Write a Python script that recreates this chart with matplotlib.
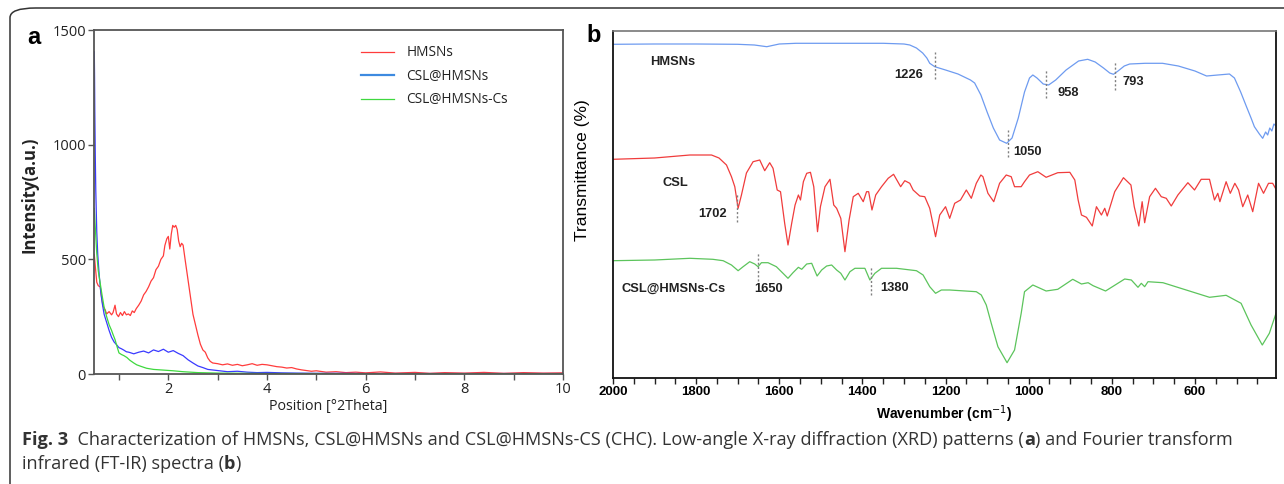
import matplotlib
matplotlib.use("Agg")
import matplotlib.pyplot as plt
from matplotlib.patches import FancyBboxPatch

# ---- panel a: low-angle XRD ----
xrd_x_hmsn = [0.50, 0.52, 0.55, 0.58, 0.62, 0.65, 0.68, 0.72, 0.75, 0.80, 0.85, 0.88, 0.92, 0.95,
              0.99, 1.03, 1.07, 1.11, 1.15, 1.19, 1.23, 1.27, 1.31, 1.35, 1.40, 1.45, 1.50, 1.55,
              1.60, 1.65, 1.70, 1.75, 1.80, 1.85, 1.90, 1.93, 1.97, 2.00, 2.03, 2.06, 2.09, 2.12,
              2.15, 2.18, 2.21, 2.24, 2.27, 2.30, 2.34, 2.38, 2.42, 2.46, 2.50, 2.55, 2.60, 2.65,
              2.70, 2.75, 2.80, 2.85, 2.90, 3.0, 3.1, 3.2, 3.3, 3.4, 3.5, 3.6, 3.7, 3.8, 3.9, 4.0,
              4.1, 4.2, 4.3, 4.4, 4.5, 4.6, 4.7, 4.8, 4.9, 5.0, 5.2, 5.4, 5.6, 5.8, 6.0, 6.3, 6.6,
              7.0, 7.3, 7.6, 8.0, 8.4, 8.8, 9.2, 9.6, 10.0]
xrd_y_hmsn = [520, 470, 400, 385, 380, 330, 295, 280, 262, 272, 258, 268, 300, 262,
              250, 268, 255, 272, 258, 262, 255, 275, 268, 285, 300, 318, 345, 360,
              380, 405, 420, 455, 470, 500, 515, 560, 590, 600, 545, 610, 648, 640,
              648, 630, 580, 555, 570, 562, 500, 440, 380, 320, 260, 215, 170, 130,
              105, 95, 70, 55, 48, 45, 40, 44, 38, 42, 36, 40, 45, 38, 42, 40,
              36, 32, 30, 26, 28, 22, 18, 15, 12, 14, 8, 10, 6, 8, 5, 9, 4,
              7, 3, 6, 4, 7, 3, 6, 4, 5]

xrd_x_csl = [0.50, 0.505, 0.51, 0.52, 0.53, 0.55, 0.57, 0.60, 0.63, 0.66, 0.70, 0.75, 0.80, 0.85,
             0.90, 0.95, 1.00, 1.05, 1.10, 1.15, 1.20, 1.30, 1.40, 1.50, 1.60, 1.70, 1.80, 1.90,
             2.00, 2.10, 2.20, 2.30, 2.40, 2.50, 2.60, 2.70, 2.80, 3.0, 3.2, 3.4, 3.6, 3.8, 4.0,
             4.3, 4.6, 5.0, 5.5, 6.0, 7.0, 8.0, 9.0, 10.0]
xrd_y_csl = [1405, 1300, 1150, 950, 800, 620, 520, 430, 360, 310, 260, 225, 190, 160,
             140, 128, 115, 110, 104, 97, 95, 88, 95, 100, 92, 105, 98, 108,
             95, 102, 90, 80, 62, 48, 35, 28, 20, 15, 10, 12, 8, 6, 7,
             5, 4, 3, 3, 2, 2, 2, 2, 2]

xrd_x_cs = [0.50, 0.51, 0.53, 0.55, 0.58, 0.62, 0.66, 0.70, 0.75, 0.80, 0.85, 0.88, 0.92, 0.96,
            1.00, 1.05, 1.10, 1.16, 1.22, 1.30, 1.36, 1.45, 1.56, 1.70, 1.90, 2.10, 2.30, 2.60,
            3.0, 3.5, 4.0, 5.0, 6.0, 8.0, 10.0]
xrd_y_cs = [722, 680, 600, 526, 450, 395, 340, 290, 250, 215, 190, 172, 150, 120,
            92, 85, 80, 72, 60, 48, 40, 33, 25, 20, 17, 14, 10, 6,
            4, 3, 2, 2, 1, 1, 1]

xrd_labels = ["HMSNs", "CSL@HMSNs", "CSL@HMSNs-Cs"]

# ---- panel b: FT-IR (arbitrary units, traces already offset) ----
ir_wn_hmsn = [2000, 1900, 1800, 1700, 1660, 1630, 1600, 1560, 1450, 1350, 1300, 1286, 1270, 1255,
              1245, 1238, 1226, 1200, 1170, 1140, 1130, 1115, 1100, 1085, 1070, 1053, 1040, 1025,
              1010, 998, 990, 980, 965, 952, 935, 910, 880, 858, 840, 820, 805, 796, 785, 770,
              757, 720, 678, 640, 600, 572, 545, 517, 505, 490, 476, 465, 457, 445, 437, 430,
              425, 420, 415, 410, 405]
ir_t_hmsn = [333.7, 334, 334, 333.7, 333, 331.3, 334, 334.7, 334.7, 334.7, 334, 333, 330, 325,
             320, 314.7, 311.3, 308, 304, 298, 295, 283, 266, 250, 238, 234.7, 240, 260,
             286, 300, 303, 300, 294, 293, 298, 308, 317, 318.7, 316, 310, 305, 303.7, 307, 312,
             314, 314.7, 314.7, 312, 307, 302, 303, 304, 300, 286, 271.3, 260, 251.3, 244, 239.7, 246,
             243, 250, 247, 254, 252]

ir_wn_csl = [2000, 1900, 1815, 1763, 1745, 1727, 1715, 1707, 1699, 1691, 1679, 1663, 1647, 1635,
             1623, 1615, 1605, 1597, 1587, 1579, 1570, 1562, 1554, 1549, 1542, 1534, 1525, 1517,
             1508, 1501, 1490, 1478, 1469, 1462, 1452, 1442, 1432, 1422, 1410, 1398, 1390, 1385,
             1377, 1368, 1354, 1338, 1325, 1308, 1298, 1286, 1278, 1262, 1250, 1238, 1224, 1214,
             1200, 1190, 1178, 1164, 1150, 1138, 1126, 1115, 1110, 1098, 1084, 1070, 1054, 1042,
             1034, 1018, 1010, 998, 978, 958, 930, 901, 889, 881, 873, 861, 847, 837, 825, 817,
             811, 793, 772, 754, 746, 735, 727, 721, 709, 695, 681, 669, 657, 641, 617, 601, 585,
             565, 553, 545, 540, 525, 515, 504, 495, 485, 473, 461, 447, 435, 423, 413, 404]
ir_t_csl = [218.7, 220, 223, 223, 220, 213, 201.3, 191.3, 169.7, 183, 205, 216.3, 218, 207.3,
            215.3, 209.7, 188, 186.3, 154.7, 133, 155, 173, 183, 178, 196.3, 204.7, 205.7, 191.3,
            146.3, 171.3, 191.3, 198.7, 173, 169.7, 159.7, 126.3, 158, 181.3, 184.7, 176.3, 186.3, 186.3,
            168, 183, 191.3, 199.7, 203.7, 191.3, 197.3, 194.7, 188, 182, 181.3, 169.7, 141.3, 163,
            171.3, 159.7, 174.7, 178, 188, 179.7, 194.7, 203, 201.3, 184.7, 176.3, 194.7, 203, 201.3,
            191.3, 191.3, 196.3, 203, 206.3, 200.7, 205.3, 205.7, 198, 178, 163, 160.7, 152, 171.3, 163, 169.7,
            162, 186.3, 200.3, 193, 171.3, 152, 176.3, 155.3, 181.3, 189.7, 181.3, 179.7, 172, 183, 195.3, 188, 198.7,
            198.7, 178, 184.7, 176.3, 196.3, 184.7, 194.7, 188, 171.3, 183, 166.3, 194.7, 184.7, 194.7, 194.7, 188]

ir_wn_cs = [2000, 1900, 1815, 1760, 1735, 1715, 1699, 1687, 1671, 1659, 1651, 1643, 1627, 1607,
            1591, 1579, 1567, 1554, 1546, 1534, 1522, 1517, 1509, 1498, 1486, 1474, 1462, 1452,
            1442, 1430, 1418, 1394, 1382, 1370, 1354, 1318, 1270, 1254, 1238, 1224, 1210, 1190,
            1126, 1114, 1102, 1090, 1074, 1052, 1034, 1018, 1010, 990, 958, 930, 894, 873, 857,
            845, 815, 769, 753, 737, 729, 721, 713, 677, 621, 565, 525, 489, 465, 438, 421, 405]
ir_t_cs = [117.3, 118, 119.7, 118.7, 117.3, 113, 107.3, 111.3, 116.3, 114, 111.3, 115.3, 115.3, 111.3,
           104.7, 99.7, 105.3, 110.7, 108.7, 114, 114.7, 109.7, 102, 108, 112, 113, 108, 104.7,
           98, 106.3, 109.7, 109.7, 98, 104.7, 109.7, 109.7, 107.3, 103, 91.3, 84.7, 88, 88,
           86.3, 83, 73, 54.7, 31.3, 15.3, 28, 64.7, 86.3, 93, 87, 88.7, 98.7, 94, 95.3,
           92.3, 87, 99, 98, 90.7, 94.7, 91.3, 96.3, 95.3, 88, 80.7, 82.7, 74.7, 53, 33, 44.7, 64.7]

# marked bands: (wavenumber, line bottom, line top)
bands = [(1226, 298.7, 326.3), (1050, 221.3, 248), (958, 280, 308), (793, 288, 316.3),
         (1702, 156.3, 185), (1650, 97.3, 125.3), (1380, 83, 111.3)]
# band labels: (text, x, y, ha)
band_labels = [("1226", 1255, 303, "right"), ("1050", 1038, 226.3, "left"),
               ("958", 930, 285.3, "left"), ("793", 774, 296.3, "left"),
               ("1702", 1726, 164, "right"), ("1650", 1659, 88.7, "left"),
               ("1380", 1356, 90.3, "left")]
trace_labels = [("HMSNs", 1911, 315.7), ("CSL", 1882, 194.7), ("CSL@HMSNs-Cs", 1979, 89)]

W, H = 1284, 484
fig = plt.figure(figsize=(W / 100, H / 100), dpi=100)

# outer frame (open to the right and bottom)
frame = FancyBboxPatch((10 / W, -0.2), 1.2, 1 - 8 / H + 0.2,
                       boxstyle="round,pad=0,rounding_size=0.02",
                       transform=fig.transFigure, fill=False, ec="#333333", lw=1.1)
fig.patches.append(frame)

font_a = ["Open Sans", "DejaVu Sans"]
font_b = ["Liberation Sans", "DejaVu Sans"]

# ---------------- panel a ----------------
ax1 = fig.add_axes([94.3 / W, 1 - 374 / H, 468.7 / W, 344 / H])
ax1.plot(xrd_x_hmsn, xrd_y_hmsn, color="#ff3c3c", lw=0.9, label=xrd_labels[0])
ax1.plot(xrd_x_csl, xrd_y_csl, color="#3a3aff", lw=0.9, label=xrd_labels[1])
ax1.plot(xrd_x_cs, xrd_y_cs, color="#3fd83f", lw=0.9, label=xrd_labels[2])
ax1.set_xlim(0.5, 10)
ax1.set_ylim(0, 1500)
ax1.set_xticks(range(1, 11))
ax1.set_xticklabels(["" if i % 2 else str(i) for i in range(1, 11)])
ax1.set_yticks([0, 500, 1000, 1500])
for s in ax1.spines.values():
    s.set_color("#555555")
    s.set_linewidth(1.3)
ax1.tick_params(direction="out", length=4, width=1, color="#555555", labelsize=10.5,
                labelcolor="#222222", pad=2)
for lab in ax1.get_xticklabels() + ax1.get_yticklabels():
    lab.set_family(font_a)
ax1.set_xlabel("Position [°2Theta]", family=font_a, fontsize=10.3, labelpad=1, color="#222222")
ax1.set_ylabel("Intensity(a.u.)", family=font_a, fontsize=12, fontweight="bold", color="#222222")
ax1.yaxis.set_label_coords(-0.12, 0.52)
leg = ax1.legend(loc="upper left", bbox_to_anchor=(0.555, 0.975), frameon=False,
                 prop={"family": font_a, "size": 9.8}, handlelength=2.4, handletextpad=0.9,
                 labelspacing=0.62, borderpad=0)
leg.get_lines()[1].set_color("#3d8ae0")
leg.get_lines()[1].set_linewidth(1.6)
for t in leg.get_texts():
    t.set_color("#222222")
fig.text(27 / W, 1 - 37 / H, "a", family=font_b, fontsize=17, fontweight="bold", va="center")

# ---------------- panel b ----------------
ax2 = fig.add_axes([613 / W, 1 - 378 / H, 663 / W, 347 / H])
ax2.plot(ir_wn_hmsn, ir_t_hmsn, color="#6e9bf0", lw=0.9)
ax2.plot(ir_wn_csl, ir_t_csl, color="#f03c3c", lw=0.9)
ax2.plot(ir_wn_cs, ir_t_cs, color="#5cc45c", lw=0.9)
for wn, y0, y1 in bands:
    ax2.plot([wn, wn], [y0, y1], color="#808080", lw=1, ls=(0, (1.5, 1.5)))
for txt, x, y, ha in band_labels:
    ax2.text(x, y, txt, ha=ha, va="center", family=font_b, fontsize=9.3, fontweight="bold",
             color="#222222")
for txt, x, y in trace_labels:
    ax2.text(x, y, txt, ha="left", va="center", family=font_b, fontsize=9.3, fontweight="bold",
             color="#222222")
ax2.set_xlim(2000, 405)
ax2.set_ylim(0, 347)
ax2.set_xticks(range(2000, 449, -50), minor=True)
ax2.set_xticks([2000, 1800, 1600, 1400, 1200, 1000, 800, 600])
ax2.set_yticks([])
ax2.tick_params(axis="x", which="both", direction="out", length=4, width=1, color="#222222")
ax2.tick_params(axis="x", labelsize=9.5, pad=2)
for lab in ax2.get_xticklabels():
    lab.set_family(font_b)
    lab.set_fontweight("bold")
for side in ["left", "bottom", "right"]:
    ax2.spines[side].set_color("#111111")
    ax2.spines[side].set_linewidth(1.3)
ax2.spines["top"].set_color("#777777")
ax2.spines["top"].set_linewidth(1.2)
ax2.set_xlabel("Wavenumber (cm$^{-1}$)", family=font_b, fontsize=10, fontweight="bold",
               labelpad=4)
ax2.set_ylabel("Transmittance (%)", family=font_b, fontsize=12.5)
ax2.yaxis.set_label_coords(-0.034, 0.6)
fig.text(586 / W, 1 - 36 / H, "b", family=font_b, fontsize=17, fontweight="bold", va="center")

# ---------------- caption ----------------
cap_font = ["Open Sans", "DejaVu Sans"]
renderer = fig.canvas.get_renderer()


def put_runs(x, y, runs, size):
    for txt, weight in runs:
        t = fig.text(x, y, txt, family=cap_font, fontsize=size, fontweight=weight,
                     color="#333333", va="center")
        x += t.get_window_extent(renderer).width / fig.bbox.width


put_runs(22 / W, 1 - 440 / H,
         [("Fig. 3", "bold"),
          ("  Characterization of HMSNs, CSL@HMSNs and CSL@HMSNs-CS (CHC). Low-angle X-ray "
           "diffraction (XRD) patterns (", "normal"),
          ("a", "bold"), (") and Fourier transform", "normal")], 13.1)
put_runs(22 / W, 1 - 464 / H,
         [("infrared (FT-IR) spectra (", "normal"), ("b", "bold"), (")", "normal")], 13.1)

fig.savefig("out.png", dpi=100)
